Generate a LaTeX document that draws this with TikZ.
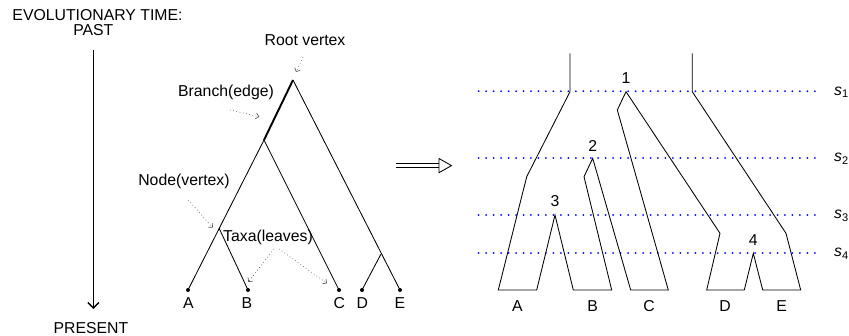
\documentclass[tikz,border=0pt]{standalone}
\usepackage{fontspec}
\setmainfont{Liberation Sans}
\usetikzlibrary{arrows.meta}

\begin{document}
\begin{tikzpicture}[x=1pt,y=-1pt,
  lbl/.style={anchor=base, inner sep=0pt, font=\fontsize{15.8}{19}\selectfont},
  tree/.style={line width=0.85pt, line join=miter},
  thickbranch/.style={line width=1.9pt},
  leafdot/.style={circle, fill=black, inner sep=0pt, minimum size=4pt},
  pointer/.style={draw=black!70, line width=0.6pt, dash pattern=on 0.7pt off 2.6pt,
    -{Straight Barb[length=3pt,width=6pt,line width=0.6pt]}},
  slice/.style={draw=blue, line width=2pt, line cap=round, dash pattern=on 0pt off 7.47pt},
  timearrow/.style={line width=1.5pt, -{Straight Barb[length=5.5pt,width=11pt,line width=1.4pt]}},
]
\useasboundingbox (0,0) rectangle (849,335);

% ---------- time axis ----------
\node[lbl] (evo) at (97.5,20.5) {EVOLUTIONARY TIME:};
\node[lbl] (past) at (93.3,35.7) {PAST};
\node[lbl] (present) at (91,333.3) {PRESENT};
\coordinate (tTop) at (93.3,50);
\coordinate (tBot) at (93.3,309);
\draw[timearrow] (tTop) -- (tBot);

% ---------- rooted tree ----------
\coordinate (root) at (293,80);
\coordinate (n1) at (264,140);
\coordinate (n2) at (219,228);
\coordinate (n3) at (381,254);
\node[leafdot] (lA) at (188,290) {};
\node[leafdot] (lB) at (248,290) {};
\node[leafdot] (lC) at (339,290) {};
\node[leafdot] (lD) at (362,290) {};
\node[leafdot] (lE) at (400,290) {};

\draw[tree] (lA.center) -- (n1) -- (lC.center);
\draw[tree] (n2) -- (lB.center);
\draw[tree] (root) -- (lE.center);
\draw[tree] (n3) -- (lD.center);
\draw[thickbranch] (n1) -- (root);

\node[lbl] (tA) at (188.3,308.3) {A};
\node[lbl] (tB) at (247,308.3) {B};
\node[lbl] (tC) at (339.3,308.3) {C};
\node[lbl] (tD) at (362.3,308.3) {D};
\node[lbl] (tE) at (400,308.3) {E};

% annotations
\node[lbl] (rootlbl) at (305,45) {Root vertex};
\node[lbl] (branchlbl) at (226,96.7) {Branch(edge)};
\node[lbl] (nodelbl) at (184,185) {Node(vertex)};
\node[lbl] (taxalbl) at (268,241.7) {Taxa(leaves)};

\coordinate (rootP) at (303,57);
\coordinate (rootQ) at (296,72);
\coordinate (branchP) at (230,110);
\coordinate (branchQ) at (259.3,116.7);
\coordinate (nodeP) at (188.3,200);
\coordinate (nodeQ) at (212.7,227.7);
\coordinate (taxaP1) at (274,249);
\coordinate (taxaQ1) at (248.3,282);
\coordinate (taxaP2) at (279,249);
\coordinate (taxaQ2) at (327,283.3);
\draw[pointer] (rootP) -- (rootQ);
\draw[pointer] (branchP) -- (branchQ);
\draw[pointer] (nodeP) -- (nodeQ);
\draw[pointer] (taxaP1) -- (taxaQ1);
\draw[pointer] (taxaP2) -- (taxaQ2);

% ---------- double arrow ----------
\coordinate (dA1) at (396,163.5);
\coordinate (dB1) at (440,163.5);
\coordinate (dA2) at (396,167.7);
\coordinate (dB2) at (440,167.7);
\coordinate (hT) at (439,158.5);
\coordinate (hM) at (451.5,165.6);
\coordinate (hB) at (439,172.7);
\draw[line width=0.85pt] (dA1) -- (dB1) (dA2) -- (dB2);
\draw[line width=0.85pt, fill=white, line join=miter] (hT) -- (hM) -- (hB) -- cycle;

% ---------- species tree with time slices ----------
\foreach \y/\n in {91.2/1, 158/2, 215/3, 253/4} {
  \coordinate (sl\n) at (478.7,\y);
  \coordinate (sr\n) at (815,\y);
  \draw[slice] (sl\n) -- (sr\n);
}
\node[lbl] (s1) at (841.5,95) {\textit{s}\textsubscript{1}};
\node[lbl] (s2) at (841.5,161.7) {\textit{s}\textsubscript{2}};
\node[lbl] (s3) at (841.5,218.3) {\textit{s}\textsubscript{3}};
\node[lbl] (s4) at (841.5,256.7) {\textit{s}\textsubscript{4}};

\coordinate (g1) at (570,53.3);
\coordinate (g2) at (570,91.7);
\coordinate (g3) at (526.7,176.7);
\coordinate (g4) at (498.3,290);
\coordinate (g5) at (536.7,290);
\coordinate (g6) at (555,215);
\coordinate (g7) at (573.3,290);
\coordinate (g8) at (611.7,290);
\coordinate (g9) at (584,176.7);
\coordinate (g10) at (592.7,158.3);
\coordinate (g11) at (630.7,290);
\coordinate (g12) at (668.3,290);
\coordinate (g13) at (617.3,110);
\coordinate (g14) at (626,91.7);
\coordinate (g15) at (720,233.3);
\coordinate (g16) at (706.7,290);
\coordinate (g17) at (744.3,290);
\coordinate (g18) at (753.3,253.3);
\coordinate (g19) at (762.7,290);
\coordinate (g20) at (800.7,290);
\coordinate (g21) at (786,233.3);
\coordinate (g22) at (692.3,91.7);
\coordinate (g23) at (692.3,53.3);
\draw[tree] (g1) -- (g2) -- (g3) -- (g4) -- (g5) -- (g6) -- (g7) -- (g8) -- (g9)
  -- (g10) -- (g11) -- (g12) -- (g13) -- (g14) -- (g15) -- (g16) -- (g17) -- (g18)
  -- (g19) -- (g20) -- (g21) -- (g22) -- (g23);

\node[lbl] (k1) at (626,83.3) {1};
\node[lbl] (k2) at (592.7,151) {2};
\node[lbl] (k3) at (555,206.7) {3};
\node[lbl] (k4) at (753.3,245) {4};

\node[lbl] (sA) at (517.3,311.7) {A};
\node[lbl] (sB) at (592.7,311.7) {B};
\node[lbl] (sC) at (649,311.7) {C};
\node[lbl] (sD) at (725,311.7) {D};
\node[lbl] (sE) at (781.7,311.7) {E};
\end{tikzpicture}
\end{document}
